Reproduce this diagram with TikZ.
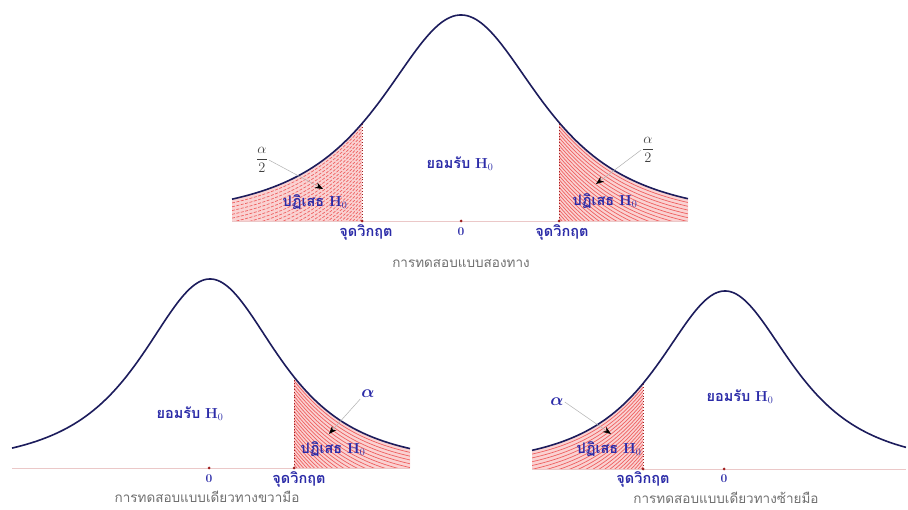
\documentclass[tikz,border=0pt]{standalone}
\usepackage{amsmath}
\usepackage{fontspec}
\newfontfamily\thai[Script=Thai]{Loma}
\usetikzlibrary{arrows.meta}
\definecolor{curvec}{HTML}{1C1C5C}
\definecolor{lblblue}{HTML}{2B2BA8}
\definecolor{shadec}{HTML}{FAD2D2}
\definecolor{stripec}{HTML}{EE6060}
\definecolor{critc}{HTML}{A02020}
\definecolor{capgray}{HTML}{707070}
\definecolor{basec}{HTML}{EBC8C8}
\newcommand\HH{{\rmfamily\bfseries H}$_0$}
\tikzset{
  declare function={
    fT(\x)=221-206*(1+((\x-461)/87)^2/2)^(-1.5);
    fL(\x)=468-189*(1+((\x-210)/75)^2/2)^(-1.5);
    fR(\x)=469-178*(1+((\x-725)/73)^2/2)^(-1.5);
  },
  bell/.style={curvec, line width=1.6pt, line join=round},
  baseln/.style={basec, line width=0.8pt},
  critln/.style={critc, dotted, line width=0.9pt},
  stripe/.style={stripec, line width=0.7pt},
  critdot/.style={circle, fill=critc, inner sep=0pt, minimum size=3pt},
  lbl/.style={font=\thai\bfseries\fontsize{14.5}{16}\selectfont, text=lblblue, inner sep=1pt},
  numlbl/.style={font=\bfseries\fontsize{12}{14}\selectfont, text=lblblue, inner sep=1pt},
  captxt/.style={font=\thai\fontsize{13.5}{15}\selectfont, text=capgray, inner sep=0pt},
  fractxt/.style={font=\fontsize{15}{17}\selectfont, text=black!75, inner sep=1pt},
  alph/.style={font=\bfseries\fontsize{17}{19}\selectfont, text=lblblue, inner sep=1pt},
  leader/.style={gray!60, line width=0.5pt, -{Stealth[black, length=8pt, width=6pt]}},
}
\begin{document}
\begin{tikzpicture}[x=1pt,y=-1pt]
\useasboundingbox (0,0) rectangle (908,510);
\fill[white] (0,0) rectangle (908,510);

% ---------------- top: two-sided ----------------
\fill[shadec] (232,221) -- plot[domain=232:362,samples=60] (\x,{fT(\x)}) -- (362,221) -- cycle;
\begin{scope}
  \clip (232,221) -- plot[domain=232:362,samples=60] (\x,{fT(\x)}) -- (362,221) -- cycle;
  \foreach \k in {1,...,28}
    \draw[stripe, dash pattern=on 3pt off 1.5pt] plot[domain=232:362,samples=40] (\x,{fT(\x)+3.8*\k});
\end{scope}
\fill[shadec] (559,221) -- plot[domain=559:688,samples=60] (\x,{fT(\x)}) -- (688,221) -- cycle;
\begin{scope}
  \clip (559,221) -- plot[domain=559:688,samples=60] (\x,{fT(\x)}) -- (688,221) -- cycle;
  \foreach \k in {1,...,28}
    \draw[stripe] plot[domain=559:688,samples=40] (\x,{fT(\x)+3.8*\k});
\end{scope}
\draw[baseln] (232,221) -- (688,221);
\draw[critln] (362,221) -- (362,{fT(362)});
\draw[critln] (559,221) -- (559,{fT(559)});
\draw[bell] plot[domain=232:688,samples=160] (\x,{fT(\x)});
\node[critdot] (cTL) at (362,221) {};
\node[critdot] (zT) at (461,221) {};
\node[critdot] (cTR) at (559,221) {};
\node[numlbl] (zTl) at (461,232) {0};
\node[lbl] (cTLl) at (366,232) {จุดวิกฤต};
\node[lbl] (cTRl) at (562,232) {จุดวิกฤต};
\node[lbl] (accT) at (460,164) {ยอมรับ \HH};
\node[lbl] (rejTL) at (315,202) {ปฏิเสธ \HH};
\node[lbl] (rejTR) at (605,201) {ปฏิเสธ \HH};
\node[fractxt] (a2L) at (262,160) {$\displaystyle\frac{\alpha}{2}$};
\node[fractxt] (a2R) at (648,150) {$\displaystyle\frac{\alpha}{2}$};
\coordinate (tipTL) at (323,189);
\coordinate (tipTR) at (596,184);
\draw[leader] (a2L.east) -- (tipTL);
\draw[leader] (a2R.west) -- (tipTR);
\node[captxt] (capT) at (461,264) {การทดสอบแบบสองทาง};

% ---------------- bottom left: right-tailed ----------------
\fill[shadec] (294,468) -- plot[domain=294:410,samples=60] (\x,{fL(\x)}) -- (410,468) -- cycle;
\begin{scope}
  \clip (294,468) -- plot[domain=294:410,samples=60] (\x,{fL(\x)}) -- (410,468) -- cycle;
  \foreach \k in {1,...,26}
    \draw[stripe] plot[domain=294:410,samples=40] (\x,{fL(\x)+3.8*\k});
\end{scope}
\draw[baseln] (12,468) -- (410,468);
\draw[critln] (294,468) -- (294,{fL(294)});
\draw[bell] plot[domain=12:410,samples=160] (\x,{fL(\x)});
\node[critdot] (zL) at (209,468) {};
\node[critdot] (cL) at (294,468) {};
\node[numlbl] (zLl) at (209,479) {0};
\node[lbl] (cLl) at (299,479) {จุดวิกฤต};
\node[lbl] (accL) at (190,414) {ยอมรับ \HH};
\node[lbl] (rejL) at (333,449) {ปฏิเสธ \HH};
\node[alph] (a1L) at (368,394) {$\boldsymbol{\alpha}$};
\coordinate (tipBL) at (329,434);
\draw[leader] (a1L.south west) -- (tipBL);
\node[captxt] (capL) at (207,497) {การทดสอบแบบเดียวทางขวามือ};

% ---------------- bottom right: left-tailed ----------------
\fill[shadec] (532,469) -- plot[domain=532:643,samples=60] (\x,{fR(\x)}) -- (643,469) -- cycle;
\begin{scope}
  \clip (532,469) -- plot[domain=532:643,samples=60] (\x,{fR(\x)}) -- (643,469) -- cycle;
  \foreach \k in {1,...,26}
    \draw[stripe] plot[domain=532:643,samples=40] (\x,{fR(\x)+3.8*\k});
\end{scope}
\draw[baseln] (532,469) -- (906,469);
\draw[critln] (643,469) -- (643,{fR(643)});
\draw[bell] plot[domain=532:906,samples=160] (\x,{fR(\x)});
\node[critdot] (cR) at (643,469) {};
\node[critdot] (zR) at (724,469) {};
\node[numlbl] (zRl) at (724,479) {0};
\node[lbl] (cRl) at (643,479) {จุดวิกฤต};
\node[lbl] (accR) at (740,397) {ยอมรับ \HH};
\node[lbl] (rejR) at (609,449) {ปฏิเสธ \HH};
\node[alph] (a1R) at (557,402) {$\boldsymbol{\alpha}$};
\coordinate (tipBR) at (611,434);
\draw[leader] (a1R.east) -- (tipBR);
\node[captxt] (capR) at (726,498) {การทดสอบแบบเดียวทางซ้ายมือ};
\end{tikzpicture}
\end{document}
